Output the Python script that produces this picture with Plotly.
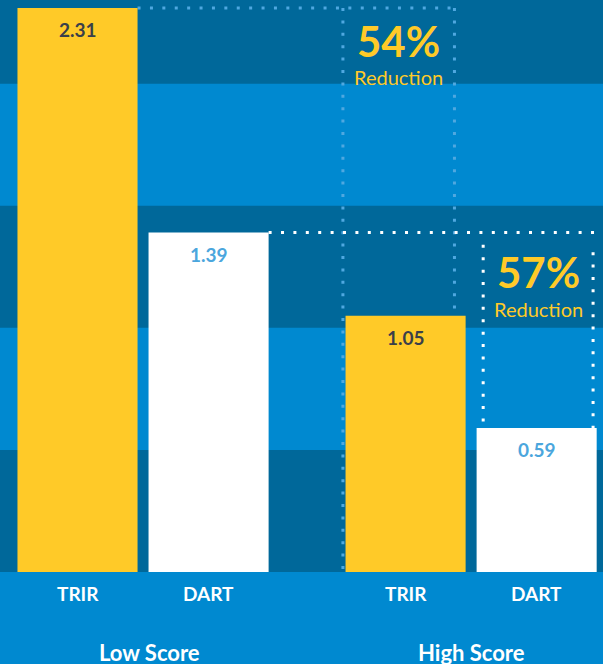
import plotly.graph_objects as go

groups = ["Low Score", "High Score"]
metrics = ["TRIR", "DART"]
trir = [2.31, 1.05]
dart = [1.39, 0.59]
reductions = ["54%", "57%"]
reduction_label = "Reduction"

DARK = "#00689A"
LIGHT = "#0089D0"
YELLOW = "#FFCA28"
WHITE = "#FFFFFF"
VAL_DARK = "#3A3F4A"
VAL_BLUE = "#4BA6DD"
DOT_BLUE = "#4FA8E0"
FONT = "Lato"

W = 0.366      # bar width (category units)
G = 0.0335     # gap between bars in a group
off_trir = -(W + G / 2)
off_dart = G / 2
ytop = max(trir) * 572 / 564

fig = go.Figure()
fig.add_trace(go.Bar(x=groups, y=trir, width=W, offset=off_trir,
                     marker=dict(color=YELLOW, line=dict(width=0)),
                     name="TRIR", hoverinfo="skip"))
fig.add_trace(go.Bar(x=groups, y=dart, width=W, offset=off_dart,
                     marker=dict(color=WHITE, line=dict(width=0)),
                     name="DART", hoverinfo="skip"))

shapes = []
b = 0.0
i = 0
while b < ytop:
    if i % 2 == 0:
        shapes.append(dict(type="rect", xref="paper", yref="y", x0=0, x1=1,
                           y0=b, y1=min(b + 0.5, ytop + 0.1), fillcolor=DARK,
                           line=dict(width=0), layer="below"))
    b += 0.5
    i += 1

dot = dict(width=3, dash="3px,9.4px")

x_low_trir_r = 0 + off_trir + W
bx0 = 1 + off_trir - 0.008
bx1 = 1 + off_trir + W - 0.034
shapes += [
    dict(type="line", xref="x", yref="y", x0=x_low_trir_r, x1=bx1, y0=trir[0], y1=trir[0],
         line=dict(color=DOT_BLUE, **dot), layer="below"),
    dict(type="line", xref="x", yref="y", x0=bx0, x1=bx0, y0=trir[0], y1=0,
         line=dict(color=DOT_BLUE, **dot), layer="below"),
    dict(type="line", xref="x", yref="y", x0=bx1, x1=bx1, y0=trir[0], y1=trir[1],
         line=dict(color=DOT_BLUE, **dot), layer="below"),
]
x_low_dart_r = 0 + off_dart + W
cx0 = 1 + off_dart + 0.020
cx1 = 1 + off_dart + W - 0.011
shapes += [
    dict(type="line", xref="x", yref="y", x0=x_low_dart_r, x1=cx1 + 0.01, y0=dart[0], y1=dart[0],
         line=dict(color=WHITE, **dot), layer="below"),
    dict(type="line", xref="x", yref="y", x0=cx0, x1=cx0, y0=dart[0] - 0.05, y1=dart[1],
         line=dict(color=WHITE, **dot), layer="below"),
    dict(type="line", xref="x", yref="y", x0=cx1, x1=cx1, y0=dart[0] - 0.08, y1=dart[1],
         line=dict(color=WHITE, **dot), layer="below"),
]

ann = []
group_xshift = [6, 0]
for gi in range(2):
    ann.append(dict(x=gi + off_trir + W / 2, y=trir[gi], xref="x", yref="y",
                    text=f"<b>{trir[gi]:.2f}</b>", showarrow=False, yanchor="top", yshift=-8,
                    font=dict(family=FONT, size=19, color=VAL_DARK, weight=900)))
    ann.append(dict(x=gi + off_dart + W / 2, y=dart[gi], xref="x", yref="y",
                    text=f"<b>{dart[gi]:.2f}</b>", showarrow=False, yanchor="top", yshift=-8,
                    font=dict(family=FONT, size=19, color=VAL_BLUE, weight=900)))
    for xo, m in [(off_trir + W / 2, metrics[0]), (off_dart + W / 2, metrics[1])]:
        ann.append(dict(x=gi + xo, y=0, xref="x", yref="paper", yanchor="middle", yshift=-21,
                        text=f"<b>{m}</b>", showarrow=False,
                        font=dict(family=FONT, size=19, color=WHITE, weight=900)))
    ann.append(dict(x=gi, y=0, xref="x", yref="paper", yanchor="middle", yshift=-80,
                    xshift=group_xshift[gi],
                    text=f"<b>{groups[gi]}</b>", showarrow=False,
                    font=dict(family=FONT, size=22, color=WHITE, weight=900)))

ann += [
    dict(x=(bx0 + bx1) / 2, y=trir[0], xref="x", yref="y", yanchor="middle", yshift=-33,
         text=f"<b>{reductions[0]}</b>", showarrow=False,
         font=dict(family=FONT, size=42, color=YELLOW, weight=900)),
    dict(x=(bx0 + bx1) / 2, y=trir[0], xref="x", yref="y", yanchor="middle", yshift=-69,
         text=reduction_label, showarrow=False,
         font=dict(family=FONT, size=20, color=YELLOW)),
    dict(x=(cx0 + cx1) / 2, y=dart[0], xref="x", yref="y", yanchor="middle", yshift=-39,
         text=f"<b>{reductions[1]}</b>", showarrow=False,
         font=dict(family=FONT, size=42, color=YELLOW, weight=900)),
    dict(x=(cx0 + cx1) / 2, y=dart[0], xref="x", yref="y", yanchor="middle", yshift=-76,
         text=reduction_label, showarrow=False,
         font=dict(family=FONT, size=20, color=YELLOW)),
]

fig.update_layout(
    width=603, height=664,
    margin=dict(l=0, r=0, t=0, b=92, pad=0),
    paper_bgcolor=LIGHT, plot_bgcolor=LIGHT,
    barmode="overlay",
    showlegend=False,
    shapes=shapes,
    annotations=ann,
    xaxis=dict(range=[-0.436, 1.402], showticklabels=False, showgrid=False,
               zeroline=False, showline=False, fixedrange=True),
    yaxis=dict(range=[0, ytop], showticklabels=False, showgrid=False,
               zeroline=False, showline=False, fixedrange=True),
)

fig.write_html("out.html", config={"displayModeBar": False},
               post_script="document.body.style.margin='0';document.body.style.overflow='hidden';")
